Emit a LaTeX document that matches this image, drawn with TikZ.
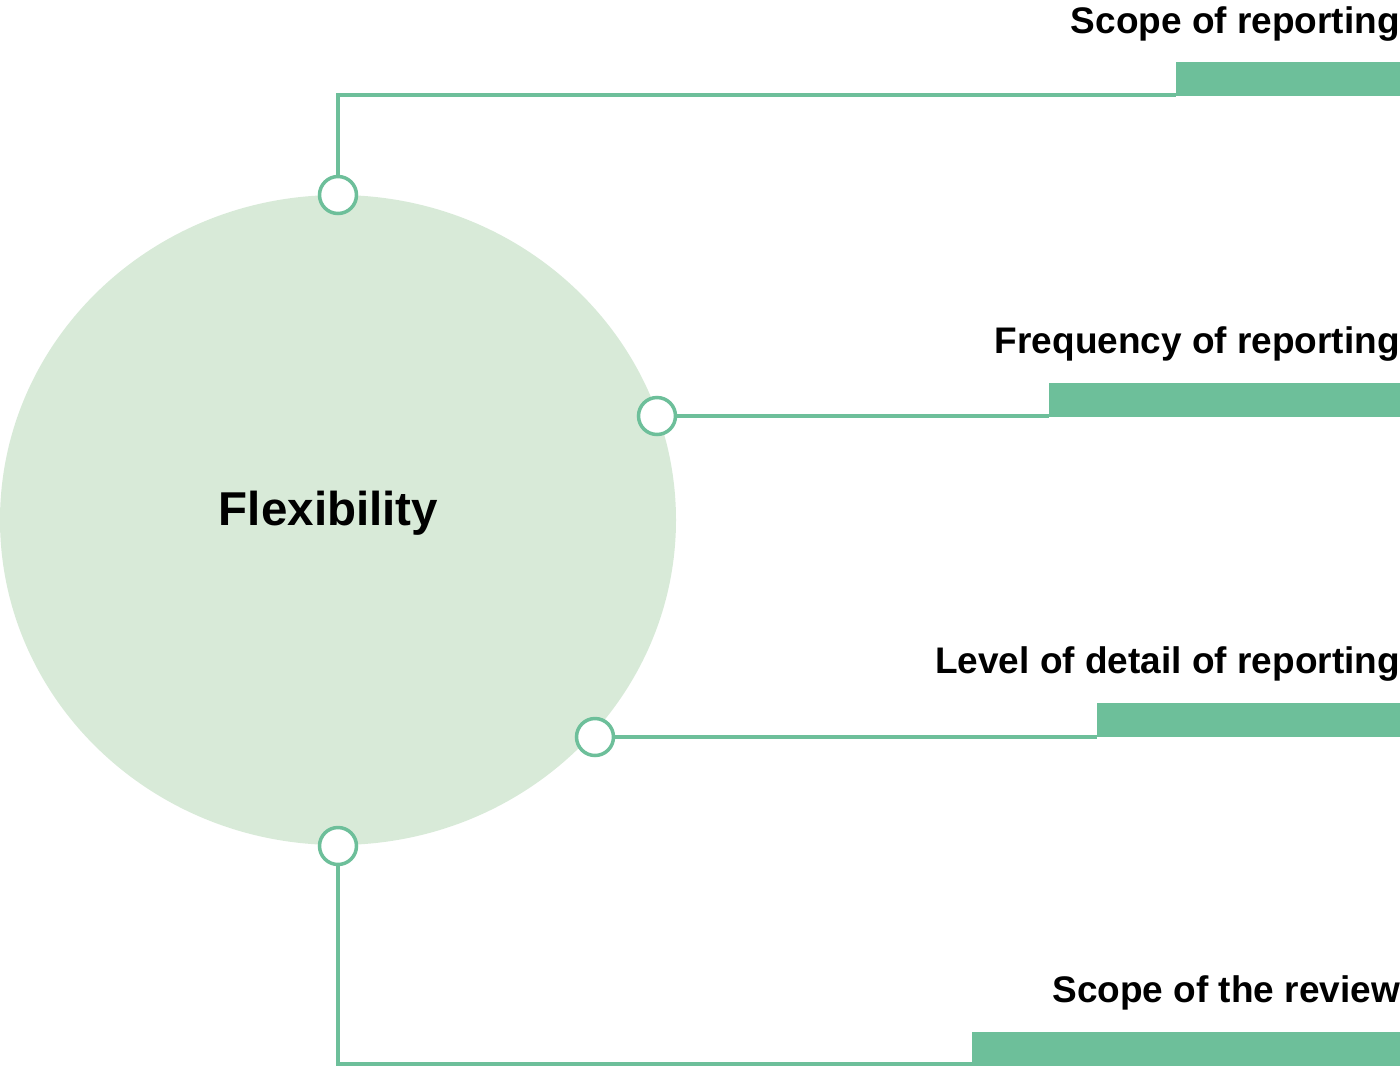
\documentclass[tikz,border=0pt]{standalone}
\usepackage{fontspec}
\setmainfont{Liberation Sans}
\definecolor{lgreen}{HTML}{6DBF9A}
\definecolor{pgreen}{HTML}{D8EAD8}
\begin{document}
\begin{tikzpicture}[x=1pt,y=-1pt,
  bar/.style={fill=lgreen,draw=none,minimum height=34pt,inner sep=0pt,anchor=north east},
  dot/.style={circle,draw=lgreen,line width=3.5pt,fill=white,minimum size=37pt,inner sep=0pt},
  link/.style={draw=lgreen,line width=3.5pt},
  lab/.style={font=\bfseries\fontsize{37}{44}\selectfont,anchor=base east,inner sep=0pt}]
\useasboundingbox (0,0) rectangle (1400,1066);
\clip (0,0) rectangle (1400,1066);
\fill[pgreen] (338,520) ellipse [x radius=338, y radius=325];
\node[font=\bfseries\fontsize{47.5}{56}\selectfont,anchor=base,inner sep=0pt] (flex) at (328.5,525) {Flexibility};
% bars
\node[bar,minimum width=224pt] (b1) at (1400,62) {};
\node[bar,minimum width=351pt] (b2) at (1400,383) {};
\node[bar,minimum width=303pt] (b3) at (1400,703) {};
\node[bar,minimum width=428pt] (b4) at (1400,1032) {};
% labels
\node[lab] (l1) at (1400,33) {Scope of reporting};
\node[lab] (l2) at (1400,353) {Frequency of reporting};
\node[lab] (l3) at (1400,673) {Level of detail of reporting};
\node[lab] (l4) at (1400,1002) {Scope of the review};
% dots
\node[dot] (d1) at (338,195) {};
\node[dot] (d2) at (657,416) {};
\node[dot] (d3) at (595,737) {};
\node[dot] (d4) at (338,846) {};
% links
\coordinate (k1) at (338,95);
\coordinate (k4) at (338,1064);
\draw[link] (d1.north) -- (k1) -- (k1 -| b1.south west);
\draw[link] (d2.east) -- (d2.east -| b2.south west);
\draw[link] (d3.east) -- (d3.east -| b3.south west);
\draw[link] (d4.south) -- (k4) -- (k4 -| b4.south west);
\end{tikzpicture}
\end{document}
